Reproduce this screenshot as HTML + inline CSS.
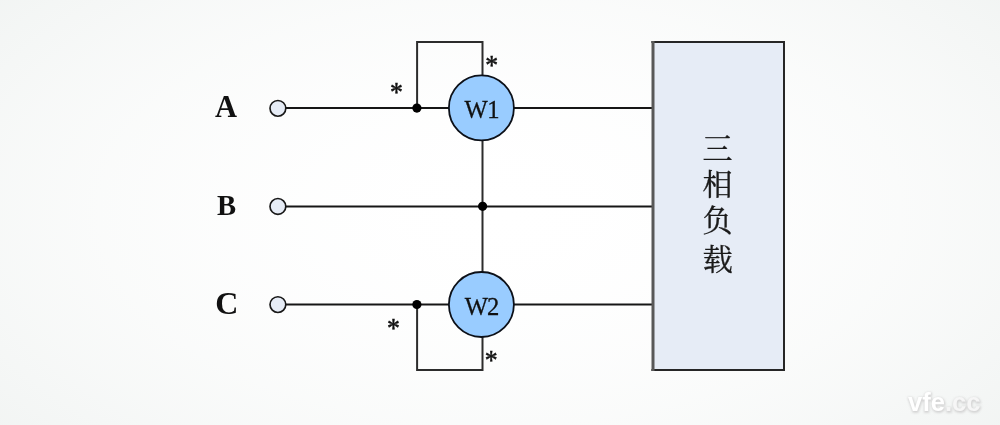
<!DOCTYPE html>
<html lang="zh">
<head>
<meta charset="utf-8">
<title>两表法测量三相功率</title>
<style>
html,body{margin:0;padding:0;}
body{width:1000px;height:425px;overflow:hidden;background:#f4f5f5;}
#stage{position:relative;width:1000px;height:425px;overflow:hidden;
  background:radial-gradient(ellipse 500px 265px at 500px 212px,rgb(255.0,255.0,255.0) 0%,rgb(254.7,254.7,254.7) 20%,rgb(253.7,254.0,253.9) 40%,rgb(252.2,252.7,252.5) 60%,rgb(250.0,251.0,250.5) 80%,rgb(247.2,248.7,248.0) 100%,rgb(243.7,245.9,244.9) 120%,rgb(241.8,244.4,243.2) 130%);}
svg{position:absolute;left:0;top:0;display:block;will-change:transform;}
.serif{font-family:"Liberation Serif","Noto Serif CJK SC",serif;}
.cjk{font-family:"Noto Serif CJK SC","Liberation Serif",serif;}
.wm{font-family:"Liberation Sans",sans-serif;font-weight:bold;}
</style>
</head>
<body>
<div id="stage">
<svg width="1000" height="425" viewBox="0 0 1000 425">
  <!-- wires -->
  <g stroke="#161616" stroke-width="2" fill="none" stroke-linecap="butt" stroke-linejoin="miter">
    <path d="M286 108.1 H652"/>
    <path d="M286 206.4 H652"/>
    <path d="M286 304.5 H652"/>
    <path d="M417.1 108 V42 H482.5 V304" stroke="#2c2c2c"/>
    <path d="M417.1 304.5 V370.1 H482.5 V304" stroke="#2c2c2c"/>
  </g>
  <!-- load box -->
  <rect x="652.5" y="42" width="131.5" height="328" fill="#e6ecf6"/>
  <g stroke="#262626" stroke-width="2" fill="none">
    <path d="M651.4 42 H785"/>
    <path d="M651.4 370 H785"/>
    <path d="M784 41 V371"/>
    <path d="M653 41 V371" stroke-width="3" stroke="#585858"/>
  </g>
  <!-- meters -->
  <circle cx="481.4" cy="107.9" r="32.5" fill="#99ccff" stroke="#0c1018" stroke-width="1.8"/>
  <circle cx="481.4" cy="304.5" r="32.5" fill="#99ccff" stroke="#0c1018" stroke-width="1.8"/>
  <!-- terminals -->
  <g fill="#e6ecf6" stroke="#181818" stroke-width="1.65">
    <circle cx="277.9" cy="108.35" r="7.9"/>
    <circle cx="277.9" cy="206.4" r="7.9"/>
    <circle cx="277.9" cy="304.6" r="7.9"/>
  </g>
  <!-- junction dots -->
  <g fill="#000">
    <circle cx="416.9" cy="108.1" r="4.6"/>
    <circle cx="482.6" cy="206.3" r="4.6"/>
    <circle cx="416.9" cy="304.5" r="4.6"/>
  </g>
  <!-- labels -->
  <g class="serif" font-weight="bold" font-size="30.5" fill="#111">
    <text x="215" y="117">A</text>
    <text transform="translate(217 215) scale(0.94 1)">B</text>
    <text transform="translate(215.2 313.5) scale(1.05 1)">C</text>
  </g>
  <g class="serif" font-size="26.2" fill="#111" stroke="#111" stroke-width="0.3">
    <text transform="translate(464.4 118) scale(0.94 1)">W<tspan dx="-0.5">1</tspan></text>
    <text transform="translate(464.7 314.7) scale(0.94 1)">W<tspan dx="-0.9">2</tspan></text>
  </g>
  <g class="serif" font-size="28" fill="#111" stroke="#111" stroke-width="0.55" text-anchor="middle">
    <text transform="translate(396.5 100.7) scale(0.92 1)">*</text>
    <text transform="translate(491.8 74.3) scale(0.92 1)">*</text>
    <text transform="translate(393.4 336.5) scale(0.92 1)">*</text>
    <text transform="translate(491.2 369.0) scale(0.92 1)">*</text>
  </g>
  <g class="cjk" font-size="30" fill="#1a1a1a" stroke="#1a1a1a" stroke-width="0.35" text-anchor="middle">
    <text x="717.5" y="159.2">三</text>
    <text x="717.5" y="194.5">相</text>
    <text x="717.5" y="230.8">负</text>
    <text x="717.7" y="269.8">载</text>
  </g>
  <!-- watermark -->
  <defs>
    <filter id="wmblur" x="-10%" y="-30%" width="120%" height="160%"><feGaussianBlur stdDeviation="0.9"/></filter>
  </defs>
  <g class="wm" font-size="25.6">
    <text x="908.4" y="411.6" fill="#d2d2d2" stroke="#d2d2d2" stroke-width="1.6" filter="url(#wmblur)">vfe.cc</text>
    <text x="908" y="411"><tspan fill="#ffffff">vfe</tspan><tspan fill="#f6f6f6">.cc</tspan></text>
  </g>
</svg>
</div>
</body>
</html>
